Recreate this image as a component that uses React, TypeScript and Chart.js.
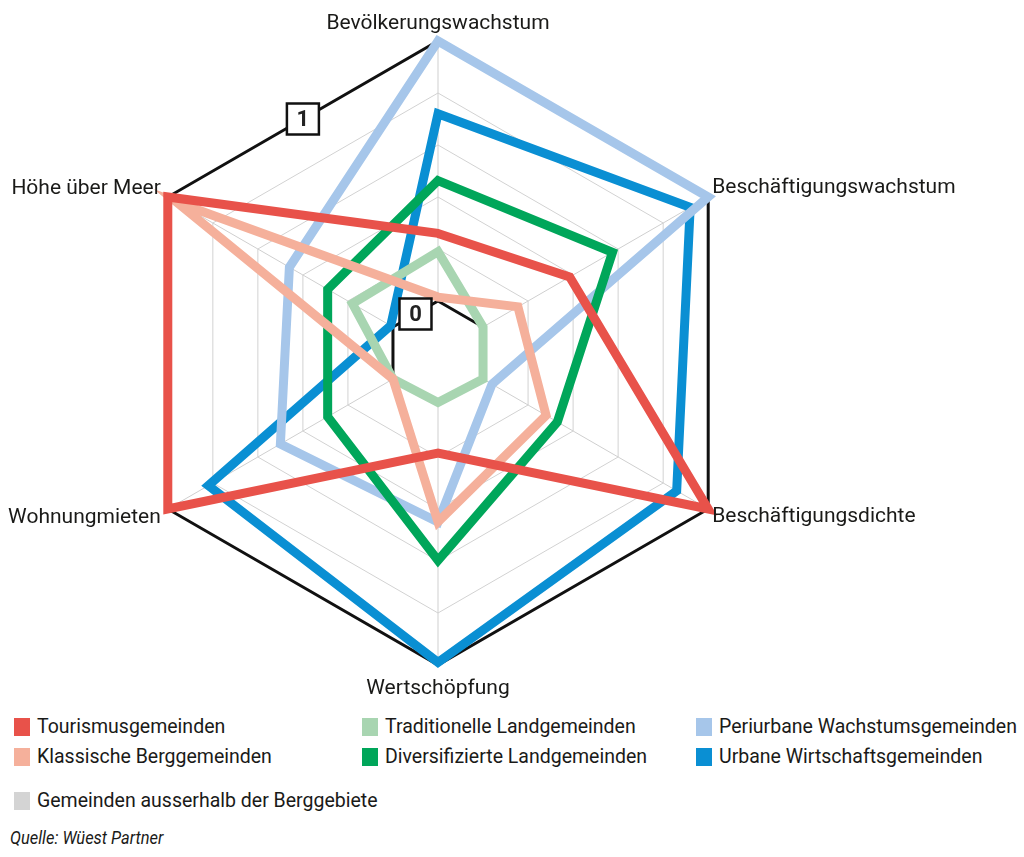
import React, { useEffect, useRef } from "react";
import { Chart, registerables } from "chart.js";

Chart.register(...registerables);

// ---- data ----
const axisLabels = [
  "Bevölkerungswachstum",
  "Beschäftigungswachstum",
  "Beschäftigungsdichte",
  "Wertschöpfung",
  "Wohnungmieten",
  "Höhe über Meer",
];

const seriesNames = [
  "Tourismusgemeinden",
  "Klassische Berggemeinden",
  "Traditionelle Landgemeinden",
  "Diversifizierte Landgemeinden",
  "Periurbane Wachstumsgemeinden",
  "Urbane Wirtschaftsgemeinden",
];

const seriesColors = ["#e8524a", "#f5b09b", "#a8d5b1", "#00a65a", "#a6c6ea", "#0a8fd3"];

const tourismus = [0.26, 0.385, 1.0, 0.185, 1.0, 1.0];
const klassischeBerg = [0.015, 0.155, 0.28, 0.45, 0.0, 0.96];
const traditionelleLand = [0.19, 0.0, 0.0, -0.01, 0.0, 0.18];
const diversifizierteLand = [0.463, 0.575, 0.33, 0.598, 0.29, 0.29];
const periurban = [1.0, 1.0, 0.04, 0.45, 0.5, 0.46];
const urban = [0.72, 0.92, 0.86, 0.99, 0.82, 0.01];

const seriesValues = [tourismus, klassischeBerg, traditionelleLand, diversifizierteLand, periurban, urban];

const otherName = "Gemeinden ausserhalb der Berggebiete";
const otherColor = "#d4d4d4";

const scaleMin = -0.2;
const scaleMax = 1;
const scaleStep = 0.2;
const boxedTicks = [0, 1];

const sourceText = "Quelle: Wüest Partner";

// ---- layout ----
const FONT = "Roboto, 'Noto Sans', sans-serif";
const TEXT = "#1a1a18";

const labelPlacement = [
  { align: "center", dx: 0, dy: -12 },
  { align: "left", dx: 4, dy: -4 },
  { align: "left", dx: 4, dy: 12.5 },
  { align: "center", dx: 0, dy: 28.5 },
  { align: "right", dx: -7, dy: 13.5 },
  { align: "right", dx: -7, dy: -3.5 },
];

const near = (a: number, b: number) => Math.abs(a - b) < 1e-6;

const radarDecor = {
  id: "radarDecor",
  beforeDatasetsDraw(chart: any) {
    const s = chart.scales.r;
    const ctx = chart.ctx;
    const n = chart.data.labels.length;
    const r0 = s.getDistanceFromCenterForValue(0);
    const r1 = s.getDistanceFromCenterForValue(scaleMax);
    ctx.save();
    ctx.strokeStyle = "#cfcfcf";
    ctx.lineWidth = 1;
    for (let i = 0; i < n; i++) {
      const a = s.getPointPosition(i, r0);
      const b = s.getPointPosition(i, r1);
      ctx.beginPath();
      ctx.moveTo(a.x, a.y);
      ctx.lineTo(b.x, b.y);
      ctx.stroke();
    }
    ctx.restore();
  },
  afterDatasetsDraw(chart: any) {
    const s = chart.scales.r;
    const ctx = chart.ctx;
    const labels: string[] = chart.data.labels;
    const n = labels.length;
    ctx.save();
    boxedTicks.forEach((v) => {
      const r = s.getDistanceFromCenterForValue(v);
      const a = s.getPointPosition(0, r);
      const b = s.getPointPosition(n - 1, r);
      const cx = (a.x + b.x) / 2;
      const cy = (a.y + b.y) / 2;
      const w = 32;
      const h = 31;
      ctx.fillStyle = "#ffffff";
      ctx.fillRect(cx - w / 2, cy - h / 2, w, h);
      ctx.strokeStyle = "#111";
      ctx.lineWidth = 2.5;
      ctx.strokeRect(cx - w / 2, cy - h / 2, w, h);
      ctx.fillStyle = "#222";
      ctx.font = `bold 22px ${FONT}`;
      ctx.textAlign = "center";
      ctx.textBaseline = "middle";
      ctx.fillText(String(v), cx, cy + 1);
    });
    ctx.font = `21px ${FONT}`;
    ctx.fillStyle = TEXT;
    ctx.textBaseline = "alphabetic";
    labels.forEach((lab, i) => {
      const p = s.getPointPosition(i, s.drawingArea);
      const pl = labelPlacement[i];
      ctx.textAlign = pl.align;
      ctx.fillText(lab, p.x + pl.dx, p.y + pl.dy);
    });
    ctx.restore();
  },
};

function RadarCanvas() {
  const ref = useRef<HTMLCanvasElement | null>(null);
  useEffect(() => {
    if (!ref.current) return;
    const chart = new Chart(ref.current, {
      type: "radar",
      data: {
        labels: axisLabels,
        datasets: seriesNames.map((name, i) => ({
          label: name,
          data: seriesValues[i],
          borderColor: seriesColors[i],
          backgroundColor: "transparent",
          borderWidth: 9,
          pointRadius: 0,
          pointHoverRadius: 0,
          fill: false,
          tension: 0,
          borderJoinStyle: "miter",
        })),
      },
      options: {
        responsive: false,
        maintainAspectRatio: false,
        animation: false,
        layout: { padding: { left: 126, right: 274, top: 41, bottom: 40 } },
        plugins: { legend: { display: false }, tooltip: { enabled: false } },
        scales: {
          r: {
            min: scaleMin,
            max: scaleMax,
            beginAtZero: false,
            ticks: { display: false, stepSize: scaleStep },
            pointLabels: { display: false },
            angleLines: { display: false },
            grid: {
              color: (c: any) =>
                c.tick && (near(c.tick.value, 0) || near(c.tick.value, scaleMax)) ? "#111111" : "#d2d2d2",
              lineWidth: (c: any) =>
                c.tick && (near(c.tick.value, 0) || near(c.tick.value, scaleMax)) ? 3 : 1,
            },
          },
        },
      },
      plugins: [radarDecor],
    } as any);
    return () => chart.destroy();
  }, []);
  return (
    <canvas
      ref={ref}
      width={1024}
      height={705}
      style={{ position: "absolute", left: 0, top: 0, width: 1024, height: 705, display: "block" }}
    />
  );
}

const legendCols = [14, 362, 696];
const legendRows = [727, 757];

function LegendItem({ x, y, color, text }: { x: number; y: number; color: string; text: string }) {
  return (
    <>
      <div style={{ position: "absolute", left: x, top: y - 9, width: 16, height: 18, background: color }} />
      <div
        style={{
          position: "absolute",
          left: x + 23,
          top: y - 12,
          height: 24,
          lineHeight: "24px",
          fontSize: 19.5,
          fontFamily: FONT,
          color: TEXT,
          whiteSpace: "nowrap",
        }}
      >
        {text}
      </div>
    </>
  );
}

export default function App() {
  return (
    <div style={{ position: "absolute", left: 0, top: 0, width: 1024, height: 857, background: "#fff", overflow: "hidden" }}>
      <RadarCanvas />
      {seriesNames.map((name, i) => (
        <LegendItem
          key={name}
          x={legendCols[Math.floor(i / 2)]}
          y={legendRows[i % 2]}
          color={seriesColors[i]}
          text={name}
        />
      ))}
      <LegendItem x={legendCols[0]} y={801} color={otherColor} text={otherName} />
      <div
        style={{
          position: "absolute",
          left: 10,
          top: 826,
          height: 24,
          lineHeight: "24px",
          fontSize: 19,
          fontStyle: "italic",
          fontFamily: FONT,
          color: TEXT,
          whiteSpace: "nowrap",
          transform: "scaleX(0.865)",
          transformOrigin: "left center",
        }}
      >
        {sourceText}
      </div>
    </div>
  );
}
